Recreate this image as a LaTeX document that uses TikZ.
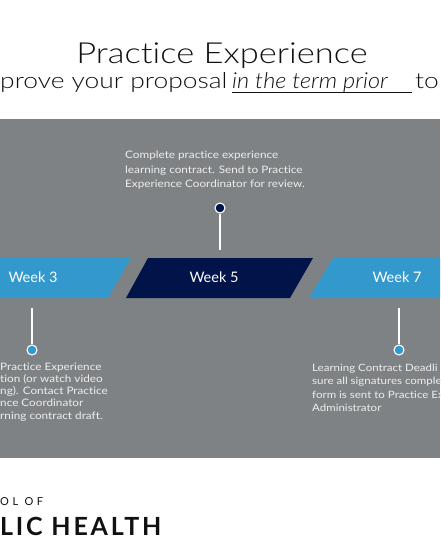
\documentclass[tikz,border=0pt]{standalone}
\usepackage{fontspec}
\setmainfont{Lato}[Ligatures={NoCommon,NoRare}]
\newfontfamily\titlefont{Lato Light}[FakeStretch=1.19,Ligatures={NoCommon,NoRare}]
\newfontfamily\subfont{Lato Light}[FakeStretch=1.2,Ligatures={NoCommon,NoRare}]
\newfontfamily\bodyfont{Lato}[FakeStretch=1.14,Ligatures={NoCommon,NoRare}]
\newfontfamily\subitfont{Lato Light}[FakeStretch=1.07,Ligatures={NoCommon,NoRare}]
\definecolor{bandgray}{HTML}{7F8284}
\definecolor{lightblue}{HTML}{3399CC}
\definecolor{navy}{HTML}{00144A}
\definecolor{bodytext}{HTML}{EEEEEE}
\definecolor{ink}{HTML}{111111}
\tikzset{
  weeklabel/.style={text=white, font=\fontsize{14.5}{16}\selectfont, inner sep=0pt},
  stem/.style={draw=white, line width=1.8pt},
  dotnavy/.style={circle, fill=navy, draw=white, line width=1.1pt, minimum size=10pt, inner sep=0pt},
  dotblue/.style={circle, fill=lightblue, draw=white, line width=1.1pt, minimum size=10pt, inner sep=0pt},
  bodyblock/.style={text=bodytext, align=left, inner sep=0pt, anchor=north west},
}
\begin{document}
\begin{tikzpicture}[x=1pt,y=-1pt]
\useasboundingbox (0,0) rectangle (440,550);
\clip (0,0) rectangle (440,550);
\fill[white] (0,0) rectangle (440,550);
% title
\node[anchor=base, inner sep=0pt, text=ink, font=\titlefont\fontsize{29}{34}\selectfont] (title) at (222,63) {Practice Experience};
\node[anchor=base west, inner sep=0pt, text=ink, font=\subfont\fontsize{22}{24}\selectfont] (sub1) at (0,88) {prove your proposal};
\node[anchor=base west, inner sep=0pt, text=ink, font=\subitfont\fontsize{22}{24}\selectfont\itshape] (sub2) at (232,88) {in the term prior};
\node[anchor=base west, inner sep=0pt, text=ink, font=\subfont\fontsize{22}{24}\selectfont] (sub3) at (415,88) {to};
\coordinate (ulend) at (412,92.5);
\draw[ink, line width=0.9pt] ([yshift=-4.5pt]sub2.base west) -- (ulend);
% band
\fill[bandgray] (0,119) rectangle (440,458);
% week boxes
\fill[lightblue] (-5,258) -- (131,258) -- (108,298) -- (-5,298) -- cycle;
\fill[navy] (148,258) -- (313,258) -- (290,298) -- (126,298) -- cycle;
\fill[lightblue] (333,258) -- (445,258) -- (445,298) -- (309,298) -- cycle;
\node[weeklabel] (w3) at (33,277) {Week 3};
\node[weeklabel] (w5) at (214,277) {Week 5};
\node[weeklabel] (w7) at (397,277) {Week 7};
% connectors
\coordinate (w5top) at (220,250);
\coordinate (w3bot) at (32,308);
\coordinate (w7bot) at (399,308);
\node[dotnavy] (d5) at (220,208) {};
\node[dotblue] (d3) at (32,350) {};
\node[dotblue] (d7) at (399,350) {};
\draw[stem] (d5.south) -- (w5top);
\draw[stem] (w3bot) -- (d3.north);
\draw[stem] (w7bot) -- (d7.north);
% texts
\node[bodyblock, font=\bodyfont\fontsize{10.3}{14.5}\selectfont] (t5) at (125,151) {Complete practice experience\\learning contract. Send to Practice\\Experience Coordinator for review.};
\node[bodyblock, font=\bodyfont\fontsize{10.3}{12.2}\selectfont] (t3) at (0,362.5) {Practice Experience\\tion (or watch video\\ng). Contact Practice\\nce Coordinator\\rning contract draft.};
\node[bodyblock, font=\bodyfont\fontsize{10.1}{13.3}\selectfont] (t7) at (312,364) {Learning Contract Deadli\\sure all signatures comple\\form is sent to Practice Ex\\Administrator};
% footer
\node[anchor=base west, inner sep=0pt, text=ink, font=\fontsize{11}{13}\selectfont\addfontfeature{LetterSpace=32}] (f1) at (0,505.7) {OL OF};
\node[anchor=base west, inner sep=0pt, text=ink, font=\fontsize{25}{28}\selectfont\bfseries\addfontfeature{LetterSpace=11}] (f2) at (0,535) {LIC HEALTH};
\end{tikzpicture}
\end{document}
